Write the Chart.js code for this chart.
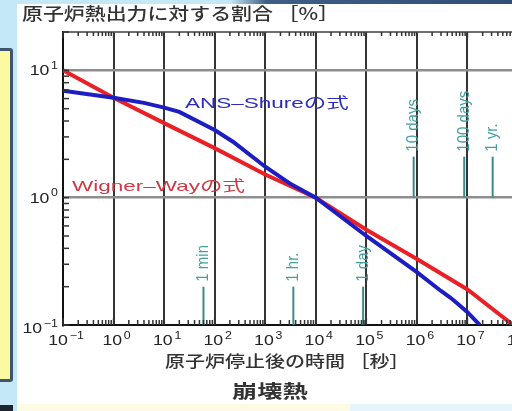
<!DOCTYPE html>
<html><head><meta charset="utf-8">
<script src="https://cdn.jsdelivr.net/npm/chart.js@4/dist/chart.umd.min.js"></script>
<style>
html,body{margin:0;padding:0;width:512px;height:411px;overflow:hidden;background:#fff;}
body{position:relative;}
#wrap{position:absolute;left:0;top:0;width:540px;height:411px;}
canvas{position:absolute;left:0;top:0;}
.deco{position:absolute;}
.t{position:absolute;white-space:nowrap;transform-origin:0 0;line-height:1;}
</style></head>
<body>
<div class="deco" style="left:0;top:0;width:512px;height:4px;background:linear-gradient(to right,#c4e8f6 0%,#c4e8f6 45%,#3d5f85 52%,#2f4f77 100%);"></div>
<div class="deco" style="left:0;top:0;width:17px;height:411px;background:#c4e8f6;"></div>
<div class="deco" style="left:-6px;top:48px;width:13px;height:328px;background:#fbf9a2;border:3px solid #3f5470;border-radius:3px;"></div>
<div class="deco" style="left:0;top:405px;width:13px;height:6px;background:#1d2430;"></div>
<div class="deco" style="left:17px;top:404px;width:333px;height:7px;background:#fdfbe4;"></div>
<div class="deco" style="left:350px;top:404px;width:162px;height:7px;background:#e4f6fb;"></div>
<div id="wrap"><canvas id="c" width="540" height="411"></canvas></div>
<div class="t" style="left:22px;top:4px;font-family:'Noto Sans CJK JP',sans-serif;font-size:17px;color:#333;font-weight:500;transform:scaleX(1.23);">原子炉熱出力に対する割合 ［%］</div>
<div class="t" style="left:165px;top:352px;font-family:'Noto Sans CJK JP',sans-serif;font-size:16px;color:#333;font-weight:500;transform:scaleX(1.25);">原子炉停止後の時間 ［秒］</div>
<div class="t" style="left:232px;top:381px;font-family:'Noto Sans CJK JP',sans-serif;font-size:18px;color:#333;font-weight:700;transform:scaleX(1.4);">崩壊熱</div>
<div class="t" style="left:185px;top:95px;font-family:'Liberation Sans','Noto Sans CJK JP',sans-serif;font-size:15px;color:#2b2bbf;transform:scaleX(1.5);">ANS–Shureの式</div>
<div class="t" style="left:72px;top:178px;font-family:'Liberation Sans','Noto Sans CJK JP',sans-serif;font-size:15px;color:#cf3844;transform:scaleX(1.5);">Wigner–Wayの式</div>
<script>
// ---- data ----
const wignerTime  = [0.1, 1, 10, 100, 1000, 1e4, 1e5, 1e6, 1e7, 8e7];
const wignerRatio = [10, 6.1, 3.85, 2.45, 1.52, 1.0, 0.56, 0.33, 0.19, 0.1];
const ansTime  = [0.1, 1, 4, 10, 20, 100, 230, 1000, 3000, 1e4, 1e5, 1e6, 3e6, 4.5e6, 6e6, 1e7, 1.75e7];
const ansRatio = [6.9, 6.1, 5.55, 5.1, 4.72, 3.4, 2.75, 1.75, 1.3, 1.0, 0.5, 0.26, 0.185, 0.165, 0.15, 0.126, 0.1];
const eventLabels  = ['1 min', '1 hr.', '1 day', '10 days', '100 days', '1 yr.'];
const eventSeconds = [60, 3600, 86400, 864000, 8640000, 31536000];
const eventLow  = [0.1, 0.1, 0.1, 1, 1, 1];
const eventHigh = [0.2, 0.2, 0.2, 2.1, 2.1, 2.1];
const xExponents = [-1, 0, 1, 2, 3, 4, 5, 6, 7, 8];
const yExponents = [-1, 0, 1];
const xMin = 0.1, xMax = 1e8, yMin = 0.1, yMax = 20;

function logTicks(min, max){
  const out = [];
  for (let e = Math.floor(Math.log10(min)); e <= Math.ceil(Math.log10(max)); e++){
    for (let m = 1; m <= 9; m++){
      const v = +(m * Math.pow(10, e)).toPrecision(6);
      if (v >= min*0.9999 && v <= max*1.0001) out.push(v);
    }
  }
  return out;
}
function isDecade(v){ const l = Math.log10(v); return Math.abs(l - Math.round(l)) < 1e-6; }

const FONT = '"Liberation Sans", Arial, sans-serif';
function drawPow(ctx, exp, x, y, align, sx){
  ctx.save();
  ctx.font = '15px ' + FONT;
  const w1 = ctx.measureText('10').width;
  ctx.font = '10.5px ' + FONT;
  const e = exp < 0 ? '\u2212' + (-exp) : String(exp);
  const w2 = ctx.measureText(e).width;
  const total = (w1 + 1.5 + w2) * sx;
  const left = align === 'center' ? x - total/2 : x - total;
  ctx.translate(left, y); ctx.scale(sx, 1);
  ctx.fillStyle = '#222';
  ctx.textBaseline = 'alphabetic'; ctx.textAlign = 'left';
  ctx.font = '15px ' + FONT; ctx.fillText('10', 0, 0);
  ctx.font = '10.5px ' + FONT; ctx.fillText(e, w1 + 1.5, -6.5);
  ctx.restore();
}

const decorPlugin = {
  id: 'decor',
  beforeDatasetsDraw(chart){
    const ctx = chart.ctx, xs = chart.scales.x, ys = chart.scales.y;
    ctx.save();
    for (let i = 0; i < eventLabels.length; i++){
      const px = xs.getPixelForValue(eventSeconds[i]);
      const y0 = ys.getPixelForValue(eventLow[i]);
      const y1 = ys.getPixelForValue(eventHigh[i]);
      ctx.strokeStyle = '#3a8c8c'; ctx.lineWidth = 2;
      ctx.beginPath(); ctx.moveTo(px, y0); ctx.lineTo(px, y1); ctx.stroke();
      ctx.save();
      ctx.translate(px, y1 - 5);
      ctx.scale(1.1, 1);
      ctx.rotate(-Math.PI/2);
      ctx.font = '15px ' + FONT;
      ctx.fillStyle = '#45a0a0';
      ctx.textAlign = 'left'; ctx.textBaseline = 'middle';
      ctx.fillText(eventLabels[i], 0, 0);
      ctx.restore();
    }
    ctx.restore();
  },
  afterDraw(chart){
    const ctx = chart.ctx, xs = chart.scales.x, ys = chart.scales.y, a = chart.chartArea;
    ctx.save();
    ctx.strokeStyle = '#6e6e6e'; ctx.lineWidth = 2;
    ctx.beginPath(); ctx.moveTo(a.left, a.top); ctx.lineTo(a.right, a.top); ctx.stroke();
    ctx.strokeStyle = '#333'; ctx.lineWidth = 1.5;
    xs.ticks.forEach(t => {
      const px = xs.getPixelForValue(t.value);
      const major = isDecade(t.value);
      ctx.beginPath();
      ctx.moveTo(px, a.bottom); ctx.lineTo(px, a.bottom - (major ? 7 : 5));
      ctx.moveTo(px, a.top); ctx.lineTo(px, a.top + (major ? 6 : 4));
      ctx.stroke();
    });
    ys.ticks.forEach(t => {
      const py = ys.getPixelForValue(t.value);
      ctx.beginPath();
      ctx.moveTo(a.left, py); ctx.lineTo(a.left + 6, py);
      ctx.stroke();
    });
    xExponents.forEach(e => {
      const px = xs.getPixelForValue(Math.pow(10, e));
      drawPow(ctx, e, px + 3, a.bottom + 20, 'center', 1.18);
    });
    yExponents.forEach(e => {
      const py = ys.getPixelForValue(Math.pow(10, e));
      drawPow(ctx, e, a.left - 5, py + 5 + (e === -1 ? 3 : 0), 'right', 1.18);
    });
    ctx.restore();
  }
};

new Chart(document.getElementById('c'), {
  type: 'line',
  data: {
    datasets: [
      { label: 'ANS-Shure', data: ansTime.map((t,i)=>({x:t, y:ansRatio[i]})),
        borderColor: '#1d1dc4', borderWidth: 4, pointRadius: 0, tension: 0, order: 1 },
      { label: 'Wigner-Way', data: wignerTime.map((t,i)=>({x:t, y:wignerRatio[i]})),
        borderColor: '#ea2027', borderWidth: 4, pointRadius: 0, tension: 0, order: 2 }
    ]
  },
  options: {
    responsive: false, animation: false, devicePixelRatio: 1,
    layout: { padding: { top: 32, right: 22, left: 0, bottom: 0 } },
    plugins: { legend: { display: false }, tooltip: { enabled: false }, title: { display: false } },
    scales: {
      x: {
        type: 'logarithmic', min: xMin, max: xMax,
        afterBuildTicks: s => { s.ticks = logTicks(xMin, xMax).map(v => ({value: v})); },
        afterFit: s => { s.height = 86; },
        ticks: { display: false },
        grid: {
          drawTicks: false, lineWidth: 2,
          color: c => (c.tick && isDecade(c.tick.value) && c.tick.value > xMin*1.01) ? '#353535' : 'rgba(0,0,0,0)'
        },
        border: { display: true, color: '#111', width: 2 }
      },
      y: {
        type: 'logarithmic', min: yMin, max: yMax,
        afterBuildTicks: s => { s.ticks = logTicks(yMin, yMax).map(v => ({value: v})); },
        afterFit: s => { s.width = 63; },
        ticks: { display: false },
        grid: {
          drawTicks: false, lineWidth: 2.5,
          color: c => (c.tick && isDecade(c.tick.value) && c.tick.value > yMin*1.01) ? '#8e8e8e' : 'rgba(0,0,0,0)'
        },
        border: { display: true, color: '#111', width: 2 }
      }
    }
  },
  plugins: [decorPlugin]
});
</script>
</body></html>
